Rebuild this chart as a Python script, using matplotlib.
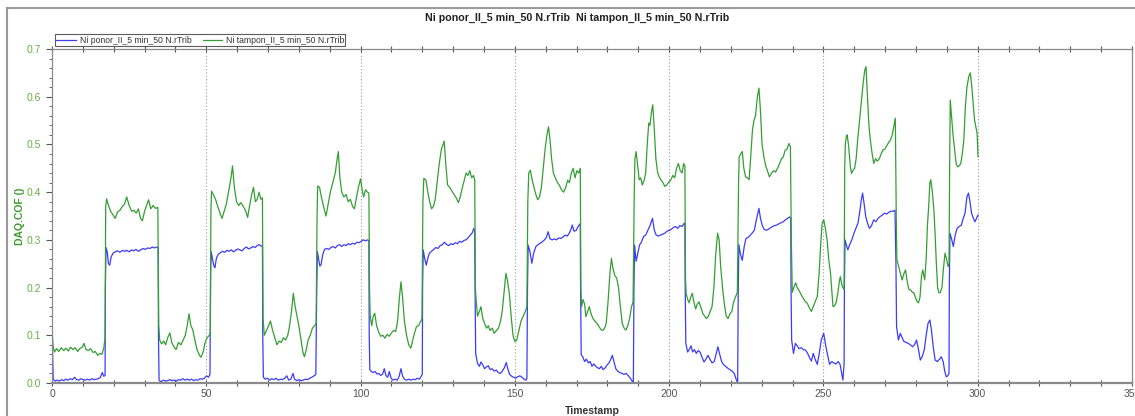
import numpy as np
import matplotlib
matplotlib.use("Agg")
import matplotlib.pyplot as plt
from matplotlib.lines import Line2D
from matplotlib.ticker import MultipleLocator

plt.rcParams['font.family'] = ['Liberation Sans', 'DejaVu Sans']

# ------------------------
# Data: friction coefficient vs. time (two samples)
# ------------------------
t_ponor = [
    0.0, 0.2, 0.4, 1.0, 1.7, 2.4, 3.1, 3.8, 4.5, 5.2, 5.9, 6.6, 7.3, 8.0, 8.7, 9.4, 10.1, 10.8,
    11.5, 12.2, 12.9, 13.6, 14.3, 15.0, 15.7, 16.3, 16.8, 17.2,
    17.3, 17.5, 17.9, 18.3, 18.7, 19.2, 19.8, 20.5, 21.2, 22.0, 22.8, 23.5, 24.2, 25.0, 25.8,
    26.5, 27.2, 28.0, 28.8, 29.5, 30.2, 31.0, 31.8, 32.5, 33.2, 33.9, 34.4,
    34.5, 34.7, 35.4, 36.1, 36.8, 37.5, 38.2, 38.9, 39.6, 40.3, 41.0, 41.7, 42.4, 43.1, 43.8,
    44.5, 45.2, 45.9, 46.6, 47.3, 48.0, 48.7, 49.4, 50.1, 50.7, 51.2,
    51.4, 51.6, 52.0, 52.5, 52.8, 53.3, 53.9, 54.6, 55.3, 56.0, 56.7, 57.4, 58.1, 58.8, 59.5,
    60.2, 60.9, 61.6, 62.3, 63.0, 63.7, 64.4, 65.1, 65.8, 66.5, 67.2, 67.8, 68.2,
    68.3, 68.5, 69.1, 69.8, 70.5, 71.2, 71.9, 72.6, 73.3, 74.0, 74.7, 75.4, 76.1, 76.7, 77.4,
    78.1, 78.6, 79.3, 80.0, 80.7, 81.4, 82.1, 82.8, 83.5, 84.2, 84.9, 85.5,
    85.8, 86.0, 86.4, 86.8, 87.2, 87.7, 88.3, 89.0, 89.7, 90.4, 91.1, 91.8, 92.5, 93.2, 93.9,
    94.6, 95.3, 96.0, 96.7, 97.4, 98.1, 98.8, 99.5, 100.2, 100.9, 101.6, 102.3, 102.7,
    102.8, 103.0, 103.5, 104.1, 104.7, 105.3, 105.9, 106.5, 107.1, 107.7, 108.2, 108.8, 109.3,
    109.9, 110.5, 111.2, 111.9, 112.5, 113.1, 113.6, 114.2, 114.9, 115.6, 116.3, 117.0, 117.7,
    118.4, 119.1, 119.7, 120.0,
    120.1, 120.3, 120.8, 121.3, 121.8, 122.3, 123.0, 123.7, 124.4, 125.1, 125.8, 126.5, 127.2,
    127.9, 128.6, 129.3, 130.0, 130.7, 131.4, 132.1, 132.8, 133.5, 134.2, 134.9, 135.6, 136.2,
    136.7, 137.0,
    137.1, 137.3, 137.9, 138.5, 139.0, 139.6, 140.2, 140.8, 141.4, 142.0, 142.6, 143.3, 144.0,
    144.6, 145.3, 145.9, 146.6, 147.2, 147.7, 148.3, 149.0, 149.6, 150.3, 150.9, 151.6, 152.3,
    153.0, 153.6, 153.9,
    154.1, 154.3, 154.9, 155.5, 156.1, 156.8, 157.5, 158.2, 158.9, 159.6, 160.2, 160.8, 161.4,
    162.1, 162.8, 163.5, 164.2, 164.9, 165.6, 166.3, 167.0, 167.7, 168.2, 168.6, 169.2, 169.9,
    170.5, 171.2,
    171.3, 171.5, 172.0, 172.6, 173.2, 173.8, 174.4, 175.0, 175.6, 176.2, 176.8, 177.4, 178.0,
    178.6, 179.3, 179.9, 180.5, 181.1, 181.6, 182.1, 182.7, 183.3, 184.0, 184.7, 185.4, 186.1,
    186.8, 187.4, 188.0, 188.4,
    188.6, 188.8, 189.3, 189.8, 190.4, 191.0, 191.7, 192.4, 193.1, 193.8, 194.6, 195.2, 195.8,
    196.5, 197.2, 197.9, 198.6, 199.3, 200.0, 200.7, 201.4, 202.1, 202.8, 203.5, 204.2, 204.8,
    205.1,
    205.2, 205.4, 206.0, 206.5, 207.1, 207.6, 208.2, 208.8, 209.4, 210.0, 210.6, 211.3, 211.9,
    212.6, 213.2, 213.9, 214.6, 215.2, 215.8, 216.4, 217.0, 217.7, 218.3, 219.0, 219.7, 220.4,
    221.1, 221.7, 222.2,
    222.4, 222.6, 223.1, 223.7, 224.3, 224.9, 225.6, 226.3, 227.0, 227.6, 228.2, 228.7, 229.1,
    229.6, 230.2, 230.8, 231.5, 232.1, 232.8, 233.5, 234.2, 234.9, 235.6, 236.3, 237.0, 237.7,
    238.4, 239.0, 239.4,
    239.5, 239.7, 240.3, 240.9, 241.5, 242.1, 242.8, 243.5, 244.2, 244.9, 245.5, 246.1, 246.7,
    247.3, 248.0, 248.6, 249.3, 250.1, 250.7, 251.3, 252.0, 252.7, 253.4, 254.1, 254.8, 255.4,
    255.9, 256.3, 256.7,
    256.8, 257.0, 257.4, 257.9, 258.5, 259.2, 259.9, 260.6, 261.2, 261.8, 262.3, 262.7, 263.2,
    263.7, 264.3, 264.9, 265.6, 266.3, 267.0, 267.7, 268.4, 269.1, 269.8, 270.5, 271.2, 271.9,
    272.6, 273.2,
    273.5, 273.7, 274.3, 274.9, 275.5, 276.1, 276.8, 277.5, 278.2, 278.9, 279.5, 280.2, 280.8,
    281.4, 282.0, 282.7, 283.3, 283.9, 284.5, 285.0, 285.6, 286.2, 286.9, 287.6, 288.2, 288.8,
    289.3, 289.8, 290.3, 290.7,
    290.8, 291.0, 291.6, 292.1, 292.7, 293.3, 294.0, 294.7, 295.3, 295.9, 296.5, 297.0, 297.5,
    298.0, 298.6, 299.1, 299.6, 300.1,
]
cof_ponor = [
    0.178, 0.06, 0.008, 0.004, 0.006, 0.004, 0.007, 0.005, 0.008, 0.006, 0.009, 0.007, 0.012, 0.007,
    0.006, 0.009, 0.007, 0.006, 0.008, 0.006, 0.009, 0.007, 0.008, 0.009, 0.012, 0.022, 0.014, 0.016,
    0.2, 0.284, 0.275, 0.25, 0.247, 0.265, 0.272, 0.275, 0.277, 0.274, 0.278, 0.276, 0.278, 0.275,
    0.279, 0.277, 0.28, 0.276, 0.279, 0.282, 0.28, 0.283, 0.282, 0.285, 0.283, 0.285, 0.284,
    0.1, 0.005, 0.003, 0.006, 0.004, 0.005, 0.007, 0.005, 0.006, 0.004, 0.007, 0.006, 0.009, 0.006,
    0.008, 0.006, 0.008, 0.005, 0.007, 0.006, 0.009, 0.008, 0.01, 0.015, 0.012, 0.018,
    0.23, 0.275, 0.26, 0.245, 0.242, 0.262, 0.27, 0.273, 0.276, 0.274, 0.278, 0.276, 0.279, 0.275,
    0.278, 0.281, 0.279, 0.277, 0.282, 0.285, 0.281, 0.283, 0.286, 0.284, 0.288, 0.29, 0.287, 0.286,
    0.1, 0.012, 0.008, 0.01, 0.006, 0.009, 0.007, 0.01, 0.006, 0.008, 0.007, 0.01, 0.015, 0.006,
    0.008, 0.02, 0.008, 0.005, 0.007, 0.005, 0.006, 0.008, 0.007, 0.01, 0.012, 0.015, 0.018,
    0.2, 0.275, 0.26, 0.245, 0.248, 0.268, 0.28, 0.282, 0.28, 0.284, 0.286, 0.283, 0.288, 0.29,
    0.286, 0.29, 0.288, 0.292, 0.29, 0.293, 0.291, 0.295, 0.294, 0.297, 0.3, 0.298, 0.3, 0.298,
    0.1, 0.028, 0.024, 0.022, 0.024, 0.019, 0.02, 0.016, 0.018, 0.03, 0.016, 0.012, 0.024,
    0.01, 0.006, 0.008, 0.006, 0.014, 0.03, 0.015, 0.008, 0.006, 0.008, 0.006, 0.008, 0.007,
    0.01, 0.008, 0.015, 0.018,
    0.2, 0.279, 0.26, 0.247, 0.262, 0.272, 0.276, 0.28, 0.284, 0.282, 0.288, 0.29, 0.295,
    0.29, 0.288, 0.292, 0.29, 0.294, 0.292, 0.297, 0.295, 0.299, 0.3, 0.305, 0.31, 0.315,
    0.324, 0.318,
    0.2, 0.062, 0.041, 0.035, 0.044, 0.038, 0.03, 0.034, 0.036, 0.028, 0.03, 0.025, 0.027,
    0.022, 0.02, 0.025, 0.032, 0.043, 0.03, 0.018, 0.014, 0.012, 0.01, 0.013, 0.015, 0.012,
    0.008, 0.006, 0.01,
    0.2, 0.289, 0.275, 0.251, 0.272, 0.286, 0.29, 0.293, 0.296, 0.3, 0.305, 0.317, 0.302,
    0.3, 0.302, 0.3, 0.304, 0.303, 0.306, 0.31, 0.308, 0.315, 0.322, 0.331, 0.318, 0.32,
    0.328, 0.334,
    0.2, 0.059, 0.055, 0.045, 0.05, 0.042, 0.045, 0.035, 0.04, 0.035, 0.032, 0.03, 0.035,
    0.028, 0.032, 0.038, 0.042, 0.05, 0.058, 0.045, 0.03, 0.025, 0.022, 0.02, 0.018, 0.02,
    0.015, 0.01, 0.004, 0.0,
    0.2, 0.289, 0.255, 0.27, 0.289, 0.295, 0.307, 0.31, 0.32, 0.33, 0.345, 0.32, 0.31,
    0.308, 0.31, 0.312, 0.314, 0.318, 0.32, 0.322, 0.326, 0.328, 0.324, 0.33, 0.328, 0.334,
    0.335,
    0.2, 0.083, 0.065, 0.07, 0.078, 0.065, 0.07, 0.062, 0.068, 0.065, 0.055, 0.044, 0.05,
    0.058, 0.05, 0.042, 0.045, 0.06, 0.076, 0.06, 0.045, 0.038, 0.035, 0.031, 0.028, 0.025,
    0.02, 0.008, 0.0,
    0.2, 0.29, 0.27, 0.257, 0.285, 0.303, 0.305, 0.31, 0.315, 0.32, 0.34, 0.355, 0.366,
    0.345, 0.33, 0.322, 0.32, 0.322, 0.325, 0.328, 0.33, 0.331, 0.334, 0.336, 0.338, 0.342,
    0.345, 0.348, 0.346,
    0.2, 0.09, 0.062, 0.083, 0.078, 0.072, 0.074, 0.07, 0.069, 0.062, 0.053, 0.046, 0.062,
    0.05, 0.039, 0.06, 0.09, 0.104, 0.08, 0.06, 0.039, 0.045, 0.042, 0.04, 0.045, 0.039,
    0.02, 0.006, 0.04,
    0.2, 0.3, 0.29, 0.279, 0.29, 0.3, 0.314, 0.325, 0.335, 0.36, 0.385, 0.398, 0.375,
    0.349, 0.335, 0.324, 0.33, 0.342, 0.338, 0.345, 0.349, 0.352, 0.356, 0.354, 0.358, 0.36,
    0.36, 0.362,
    0.25, 0.118, 0.09, 0.104, 0.095, 0.087, 0.085, 0.083, 0.08, 0.076, 0.08, 0.09, 0.07,
    0.048, 0.055, 0.07, 0.1, 0.125, 0.132, 0.111, 0.075, 0.048, 0.045, 0.05, 0.055, 0.045,
    0.025, 0.013, 0.015, 0.02,
    0.2, 0.314, 0.3, 0.286, 0.31, 0.324, 0.328, 0.331, 0.345, 0.356, 0.39, 0.398, 0.38,
    0.356, 0.345, 0.338, 0.345, 0.352,
]

t_tampon = [
    0.0, 0.3, 0.8, 1.5, 2.2, 3.0, 3.8, 4.5, 5.3, 6.0, 6.8, 7.5, 8.3, 9.0, 9.8, 10.4, 11.0, 11.8,
    12.5, 13.3, 14.0, 14.8, 15.5, 16.2, 16.8, 17.2,
    17.4, 17.7, 18.3, 19.0, 19.8, 20.5, 21.2, 22.0, 22.8, 23.5, 24.2, 25.0, 25.8, 26.5, 27.3,
    28.0, 28.7, 29.3, 30.0, 30.8, 31.3, 32.0, 32.8, 33.5, 34.3,
    34.6, 34.9, 35.5, 36.2, 36.8, 37.5, 38.2, 38.8, 39.5, 40.2, 41.0, 41.8, 42.5, 43.2, 43.8,
    44.4, 45.0, 45.6, 46.3, 47.0, 47.8, 48.3, 49.0, 49.6, 50.3, 51.0, 51.3,
    51.5, 51.7, 52.3, 53.0, 53.7, 54.5, 55.1, 55.8, 56.5, 57.2, 58.0, 58.5, 59.1, 59.8, 60.5,
    61.2, 62.0, 62.8, 63.4, 64.0, 64.7, 65.3, 65.9, 66.5, 67.1, 67.7, 68.2,
    68.4, 68.8, 69.5, 70.2, 70.8, 71.5, 72.2, 72.9, 73.6, 74.3, 75.0, 75.7, 76.4, 77.0, 77.6,
    78.2, 78.8, 79.4, 80.0, 80.7, 81.3, 81.8, 82.4, 83.0, 83.7, 84.4, 85.1, 85.6,
    85.9, 86.1, 86.7, 87.3, 88.0, 88.8, 89.5, 90.2, 91.0, 91.8, 92.4, 92.8, 93.3, 93.9, 94.6,
    95.3, 96.0, 96.7, 97.4, 98.0, 98.7, 99.3, 100.0, 100.5, 101.0, 101.6, 102.2, 102.7,
    102.9, 103.1, 103.6, 104.1, 104.6, 105.2, 105.8, 106.5, 107.2, 107.9, 108.6, 109.3, 110.0,
    110.7, 111.4, 112.0, 112.6, 113.1, 113.6, 114.2, 114.9, 115.6, 116.3, 116.9, 117.5, 118.1,
    118.8, 119.4, 119.9,
    120.2, 120.5, 121.2, 121.8, 122.4, 123.0, 123.6, 124.2, 124.8, 125.5, 126.2, 127.1, 127.6,
    128.2, 128.9, 129.6, 130.3, 131.0, 131.7, 132.3, 133.0, 133.6, 134.2, 134.8, 135.4, 136.0,
    136.6, 137.0,
    137.2, 137.5, 137.9, 138.5, 139.0, 139.6, 140.2, 140.8, 141.4, 142.0, 142.7, 143.3, 144.0,
    144.7, 145.3, 145.9, 146.5, 147.1, 147.6, 148.2, 148.8, 149.4, 150.0, 150.6, 151.3, 152.0,
    152.7, 153.4, 153.9,
    154.2, 154.5, 155.0, 155.6, 156.2, 156.8, 157.4, 158.0, 158.6, 159.2, 159.8, 160.4, 160.9,
    161.4, 161.9, 162.5, 163.1, 163.8, 164.4, 165.1, 165.8, 166.5, 167.1, 167.7, 168.3, 168.9,
    169.5, 170.1, 170.7, 171.2,
    171.4, 171.6, 172.1, 172.6, 173.0, 173.6, 174.1, 174.7, 175.3, 175.9, 176.6, 177.3, 177.9,
    178.5, 179.1, 179.6, 180.2, 180.8, 181.3, 181.8, 182.4, 183.0, 183.6, 184.2, 184.8, 185.4,
    186.0, 186.6, 187.2, 187.8, 188.3,
    188.7, 188.9, 189.3, 189.8, 190.3, 190.8, 191.3, 191.9, 192.4, 192.9, 193.4, 193.8, 194.3,
    194.7, 195.2, 195.7, 196.3, 196.8, 197.4, 198.0, 198.6, 199.2, 199.8, 200.5, 201.2, 201.8,
    202.4, 203.0, 203.6, 204.2, 204.7, 205.1,
    205.3, 205.5, 206.0, 206.5, 207.0, 207.5, 208.0, 208.6, 209.1, 209.7, 210.3, 210.9, 211.5,
    212.1, 212.7, 213.3, 213.9, 214.5, 215.1, 215.7, 216.2, 216.7, 217.3, 217.9, 218.5, 219.1,
    219.7, 220.3, 220.9, 221.5, 222.1,
    222.5, 222.7, 223.2, 223.7, 224.2, 224.8, 225.4, 225.9, 226.4, 227.0, 227.5, 228.0, 228.6,
    229.1, 229.6, 230.1, 230.7, 231.3, 231.8, 232.5, 233.2, 233.9, 234.5, 235.1, 235.8, 236.4,
    237.0, 237.6, 238.2, 238.8, 239.3,
    239.6, 239.9, 240.4, 241.0, 241.5, 242.0, 242.8, 243.7, 244.2, 244.7, 245.4, 246.1, 246.7,
    247.3, 248.0, 248.6, 249.2, 249.6, 250.1, 250.6, 251.2, 251.7, 252.3, 252.8, 253.1, 253.6,
    254.1, 254.7, 255.2, 255.5, 256.0, 256.3, 256.7,
    256.9, 257.1, 257.4, 257.7, 258.2, 258.7, 259.1, 259.6, 260.1, 260.6, 261.1, 261.6, 262.3,
    262.9, 263.4, 263.8, 264.2, 264.7, 265.2, 265.8, 266.3, 266.9, 267.5, 268.1, 268.7, 269.2,
    269.9, 270.6, 271.2, 271.7, 272.3, 272.8, 273.3,
    273.6, 273.8, 274.4, 274.9, 275.5, 276.0, 276.6, 277.1, 277.7, 278.3, 278.8, 279.3, 279.9,
    280.4, 280.8, 281.3, 281.8, 282.2, 282.8, 283.3, 283.7, 284.1, 284.5, 284.8, 285.3, 285.8,
    286.2, 286.6, 287.0, 287.4, 287.9, 288.4, 288.9, 289.4, 289.9, 290.4, 290.7,
    290.9, 291.1, 291.5, 292.0, 292.5, 293.0, 293.5, 294.0, 294.5, 295.0, 295.5, 296.0, 296.5,
    297.1, 297.6, 298.1, 298.6, 299.0, 299.4, 299.8, 300.1,
]
cof_tampon = [
    0.11, 0.08, 0.065, 0.072, 0.066, 0.074, 0.068, 0.073, 0.067, 0.075, 0.07, 0.074, 0.066, 0.072,
    0.075, 0.083, 0.07, 0.068, 0.072, 0.064, 0.066, 0.058, 0.062, 0.06, 0.074, 0.095,
    0.37, 0.386, 0.372, 0.36, 0.352, 0.345, 0.358, 0.362, 0.37, 0.375, 0.39, 0.372, 0.36, 0.362,
    0.356, 0.365, 0.345, 0.34, 0.36, 0.375, 0.384, 0.365, 0.372, 0.366, 0.368,
    0.12, 0.09, 0.082, 0.088, 0.08, 0.095, 0.105, 0.085, 0.076, 0.07, 0.085, 0.08, 0.09, 0.1,
    0.12, 0.145, 0.12, 0.112, 0.09, 0.07, 0.058, 0.054, 0.065, 0.085, 0.095, 0.1, 0.105,
    0.36, 0.402, 0.395, 0.385, 0.37, 0.355, 0.345, 0.36, 0.375, 0.4, 0.43, 0.455, 0.41, 0.38,
    0.372, 0.378, 0.37, 0.36, 0.347, 0.37, 0.395, 0.41, 0.38, 0.385, 0.4, 0.385, 0.388,
    0.135, 0.1, 0.11, 0.12, 0.13, 0.11, 0.095, 0.08, 0.088, 0.085, 0.095, 0.09, 0.1, 0.12,
    0.15, 0.188, 0.16, 0.14, 0.12, 0.09, 0.065, 0.055, 0.07, 0.09, 0.1, 0.115, 0.12, 0.125,
    0.35, 0.413, 0.41, 0.39, 0.37, 0.35, 0.375, 0.4, 0.42, 0.44, 0.47, 0.485, 0.43, 0.4, 0.39,
    0.395, 0.38, 0.385, 0.37, 0.365, 0.39, 0.41, 0.428, 0.405, 0.39, 0.405, 0.4, 0.398,
    0.2, 0.142, 0.12, 0.14, 0.146, 0.12, 0.108, 0.098, 0.1, 0.094, 0.102, 0.098, 0.105,
    0.11, 0.108, 0.13, 0.18, 0.212, 0.18, 0.13, 0.1, 0.08, 0.073, 0.09, 0.105, 0.118,
    0.12, 0.128, 0.135,
    0.38, 0.429, 0.425, 0.4, 0.38, 0.365, 0.37, 0.385, 0.42, 0.46, 0.49, 0.507, 0.46,
    0.415, 0.41, 0.402, 0.395, 0.388, 0.378, 0.39, 0.41, 0.425, 0.44, 0.435, 0.445, 0.43,
    0.435, 0.425,
    0.2, 0.17, 0.14, 0.15, 0.16, 0.135, 0.125, 0.115, 0.12, 0.11, 0.115, 0.104, 0.11,
    0.115, 0.128, 0.15, 0.19, 0.23, 0.215, 0.188, 0.14, 0.1, 0.087, 0.09, 0.11, 0.13,
    0.14, 0.15, 0.16,
    0.38, 0.44, 0.446, 0.426, 0.41, 0.395, 0.384, 0.39, 0.41, 0.45, 0.49, 0.52, 0.537,
    0.51, 0.47, 0.44, 0.43, 0.42, 0.415, 0.405, 0.4, 0.41, 0.425, 0.42, 0.44, 0.45,
    0.43, 0.445, 0.44, 0.45,
    0.2, 0.16, 0.175, 0.165, 0.139, 0.15, 0.16, 0.145, 0.135, 0.13, 0.125, 0.118, 0.112,
    0.11, 0.115, 0.125, 0.17, 0.23, 0.261, 0.24, 0.225, 0.22, 0.2, 0.16, 0.125, 0.115,
    0.111, 0.12, 0.135, 0.16, 0.17,
    0.4, 0.47, 0.485, 0.455, 0.426, 0.43, 0.415, 0.425, 0.44, 0.5, 0.545, 0.54, 0.57,
    0.583, 0.53, 0.47, 0.44, 0.432, 0.425, 0.42, 0.412, 0.415, 0.42, 0.425, 0.435, 0.43,
    0.45, 0.46, 0.445, 0.44, 0.46, 0.455,
    0.22, 0.188, 0.175, 0.168, 0.18, 0.188, 0.17, 0.155, 0.165, 0.17, 0.158, 0.146, 0.14,
    0.135, 0.14, 0.15, 0.16, 0.2, 0.27, 0.314, 0.3, 0.244, 0.2, 0.165, 0.14, 0.135,
    0.145, 0.15, 0.17, 0.18, 0.19,
    0.42, 0.474, 0.48, 0.485, 0.45, 0.432, 0.43, 0.426, 0.47, 0.53, 0.551, 0.56, 0.6,
    0.618, 0.57, 0.5, 0.474, 0.455, 0.446, 0.432, 0.44, 0.445, 0.442, 0.45, 0.46, 0.47,
    0.474, 0.488, 0.49, 0.502, 0.495,
    0.3, 0.19, 0.2, 0.21, 0.2, 0.195, 0.185, 0.175, 0.17, 0.168, 0.158, 0.15, 0.16,
    0.17, 0.181, 0.23, 0.3, 0.335, 0.342, 0.325, 0.3, 0.26, 0.23, 0.185, 0.16, 0.162,
    0.168, 0.19, 0.215, 0.223, 0.205, 0.2, 0.196,
    0.45, 0.5, 0.516, 0.52, 0.495, 0.455, 0.439, 0.446, 0.45, 0.47, 0.51, 0.544, 0.593,
    0.63, 0.656, 0.663, 0.61, 0.544, 0.509, 0.48, 0.46, 0.47, 0.465, 0.47, 0.48, 0.488,
    0.49, 0.498, 0.505, 0.509, 0.52, 0.537, 0.555,
    0.35, 0.258, 0.244, 0.23, 0.216, 0.228, 0.237, 0.215, 0.196, 0.195, 0.19, 0.189, 0.178,
    0.17, 0.168, 0.18, 0.225, 0.237, 0.216, 0.26, 0.33, 0.369, 0.42, 0.426, 0.4, 0.363,
    0.31, 0.25, 0.2, 0.189, 0.19, 0.2, 0.24, 0.272, 0.26, 0.244, 0.25,
    0.45, 0.593, 0.56, 0.52, 0.49, 0.46, 0.453, 0.455, 0.46, 0.48, 0.509, 0.579, 0.62,
    0.642, 0.65, 0.62, 0.579, 0.55, 0.537, 0.523, 0.474,
]

label_ponor = "Ni ponor_II_5 min_50 N.rTrib"
label_tampon = "Ni tampon_II_5 min_50 N.rTrib"
x_ticks = [0, 50, 100, 150, 200, 250, 300, 350]
y_ticks = [0.0, 0.1, 0.2, 0.3, 0.4, 0.5, 0.6, 0.7]

# ------------------------
# Figure
# ------------------------
fig = plt.figure(figsize=(11.35, 4.16), dpi=100)
ax = fig.add_axes([52 / 1135, 1 - 383 / 416, 1080 / 1135, 334 / 416])

ax.plot(t_ponor, cof_ponor, color="#3c3cf5", lw=0.9, label=label_ponor)
ax.plot(t_tampon, cof_tampon, color="#349e34", lw=0.9, label=label_tampon)

ax.set_xlim(0, 350)
ax.set_ylim(0, 0.7)

# dotted markers every 50 s
for xv in x_ticks[1:-1]:
    ax.axvline(xv, color="#9a9a9a", lw=0.8, ls=(0, (1, 2)), zorder=0)

ax.set_xticks(x_ticks)
ax.xaxis.set_minor_locator(MultipleLocator(10))
ax.set_yticks(y_ticks)
ax.set_yticklabels([f"{v:.1f}" for v in y_ticks])
ax.yaxis.set_minor_locator(MultipleLocator(0.02))

ax.tick_params(axis="x", which="major", direction="inout", length=5, width=0.8,
               color="#555555", labelsize=7.5, labelcolor="#555555", top=True, pad=2)
ax.tick_params(axis="x", which="minor", direction="inout", length=4, width=0.8,
               color="#555555", top=True)
ax.tick_params(axis="y", which="major", direction="out", length=4, width=0.8,
               color="#555555", labelsize=7.5, labelcolor="#6aaf45", pad=4)
ax.tick_params(axis="y", which="minor", direction="out", length=2, width=0.6,
               color="#555555")

for side in ["left", "right", "top"]:
    ax.spines[side].set_color("#8a8a8a")
    ax.spines[side].set_linewidth(0.9)
ax.spines["bottom"].set_color("#8a8a8a")
ax.spines["bottom"].set_linewidth(1.6)

ax.set_xlabel("Timestamp", fontsize=7.5, fontweight="bold", color="#333333", labelpad=5)
ax.set_ylabel("DAQ.COF ()", fontsize=7.5, fontweight="bold", color="#3a9a2a", labelpad=1)

leg = ax.legend(loc="lower left", bbox_to_anchor=(0.0, 1.0), ncol=2, fontsize=6.2,
                frameon=True, fancybox=False, borderpad=0.15, handlelength=2.3,
                handletextpad=0.4, columnspacing=1.3, borderaxespad=0.35)
leg.get_frame().set_edgecolor("#333333")
leg.get_frame().set_linewidth(0.8)
for txt in leg.get_texts():
    txt.set_color("#333333")

fig.text(577 / 1135, 1 - 18 / 416, label_ponor + "  " + label_tampon,
         ha="center", va="center", fontsize=7.7, fontweight="bold", color="#222222")

# panel border (left and top edge)
fig.add_artist(Line2D([7 / 1135, 7 / 1135], [0, 1 - 8 / 416], transform=fig.transFigure,
                      color="#9a9a9a", lw=1.5))
fig.add_artist(Line2D([7 / 1135, 1], [1 - 8 / 416, 1 - 8 / 416], transform=fig.transFigure,
                      color="#9a9a9a", lw=1.5))

fig.savefig("out.png", dpi=100)
